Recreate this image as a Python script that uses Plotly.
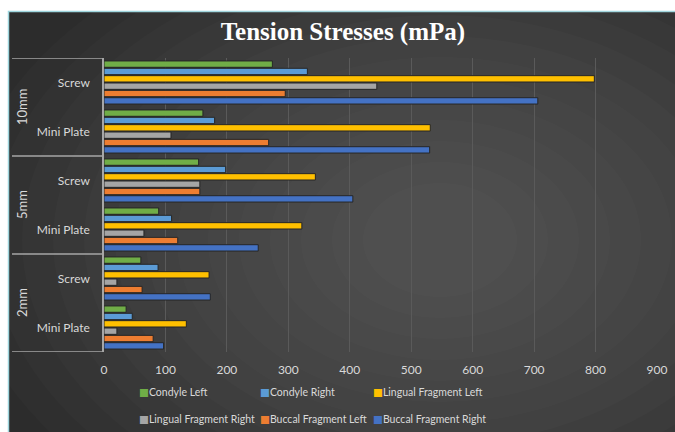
import plotly.graph_objects as go

# ---- data ----
categories = ["Screw", "Mini Plate", "Screw", "Mini Plate", "Screw", "Mini Plate"]
groups = ["10mm", "5mm", "2mm"]
series_names = ["Condyle Left", "Condyle Right", "Lingual Fragment Left",
                "Lingual Fragment Right", "Buccal Fragment Left", "Buccal Fragment Right"]
condyle_left = [274, 161, 154, 89, 60, 36]
condyle_right = [331, 180, 198, 110, 88, 46]
lingual_left = [798, 531, 344, 322, 171, 134]
lingual_right = [444, 109, 156, 65, 21, 21]
buccal_left = [295, 268, 156, 120, 62, 80]
buccal_right = [706, 530, 405, 251, 173, 97]
x_ticks = [0, 100, 200, 300, 400, 500, 600, 700, 800, 900]

series_values = [condyle_left, condyle_right, lingual_left,
                 lingual_right, buccal_left, buccal_right]
colors = ["#70AD47", "#5B9BD5", "#FFC000", "#A5A5A5", "#ED7D31", "#4472C4"]

W, H = 675, 432
L, R, T, B = 104, 18, 58, 80
PW, PH = W - L - R, H - T - B


def px_x(px):
    return (px - L) / PW


def px_y(py):
    return (H - B - py) / PH


legend_ids = ["legend", "legend2", "legend3", "legend4", "legend5", "legend6"]
# legend entry start positions (px) in a 3-column, 2-row grid
legend_item_x = [139, 260, 373, 139, 260, 373]
legend_row_y = [392, 392, 392, 419, 419, 419]

positions = list(range(len(categories)))
fig = go.Figure()
for i, (name, vals, col) in enumerate(zip(series_names, series_values, colors)):
    fig.add_trace(go.Bar(
        y=positions, x=vals, name=name, orientation="h",
        marker=dict(color=col, line=dict(color="#262626", width=1)),
        showlegend=False,
    ))
# compact legend entries (small coloured square right before the text)
for i, (name, col) in enumerate(zip(series_names, colors)):
    fig.add_trace(go.Scatter(
        x=[None], y=[None], mode="markers",
        marker=dict(color="rgba(0,0,0,0)", size=1, line=dict(width=0)),
        name=f"<span style='color:{col}'>■</span>{name}",
        legend=legend_ids[i], showlegend=True, hoverinfo="skip",
    ))

shapes = []
# background panel
shapes.append(dict(type="rect", xref="paper", yref="paper",
                   x0=px_x(8.5), x1=px_x(677), y0=px_y(434), y1=px_y(11.5),
                   fillcolor="#2c2c2c", line=dict(color="#9ed6de", width=1.5),
                   layer="below"))
# soft radial lightening
cx, cy = 440, 240
n = 14
for k in range(n):
    rx = 480 - k * 31
    ry = 330 - k * 21
    shapes.append(dict(type="circle", xref="paper", yref="paper",
                       x0=px_x(cx - rx), x1=px_x(cx + rx),
                       y0=px_y(cy + ry), y1=px_y(cy - ry),
                       fillcolor="rgba(255,255,255,0.016)", line=dict(width=0),
                       layer="below"))
# group separator lines in the category label area
for yv in [-0.5, 1.5, 3.5, 5.5]:
    shapes.append(dict(type="line", xref="paper", yref="y",
                       x0=px_x(12), x1=0, y0=yv, y1=yv,
                       line=dict(color="#a6a6a6", width=1.5)))

annotations = []
for gi, g in enumerate(groups):
    annotations.append(dict(text=g, xref="paper", yref="y",
                             x=px_x(22), y=gi * 2 + 0.5, showarrow=False,
                             textangle=-90, xanchor="center", yanchor="middle",
                             font=dict(family="Lato, Open Sans, sans-serif",
                                       size=13, color="#d9d9d9")))

legend_font = dict(family="Lato, DejaVu Sans, sans-serif", size=10.5, color="#d9d9d9")
legend_layouts = {}
for lid, ix, ty in zip(legend_ids, legend_item_x, legend_row_y):
    legend_layouts[lid] = dict(orientation="v", x=px_x(ix - 40), xanchor="left",
                               y=px_y(ty), yanchor="middle",
                               bgcolor="rgba(0,0,0,0)", font=legend_font)

fig.update_layout(
    width=W, height=H,
    margin=dict(l=L, r=R, t=T, b=B, pad=0, autoexpand=False),
    paper_bgcolor="white",
    plot_bgcolor="rgba(0,0,0,0)",
    barmode="group", bargap=0.1, bargroupgap=0.14,
    title=dict(text="<b>Tension Stresses (mPa)</b>", x=0.508, xanchor="center",
               y=1 - 31 / H, yanchor="middle", yref="container",
               font=dict(family="Liberation Serif, serif", size=25, color="white")),
    xaxis=dict(range=[0, 900], tickvals=x_ticks, showgrid=True,
               gridcolor="#5a5a5a", gridwidth=1, zeroline=False, showline=False,
               ticks="", ticklabelstandoff=9,
               tickfont=dict(family="Lato, Open Sans, sans-serif", size=12, color="#d9d9d9")),
    yaxis=dict(range=[5.5, -0.5], tickvals=positions, ticktext=categories,
               showgrid=False, zeroline=False, showline=True,
               linecolor="#a6a6a6", linewidth=1.5, ticks="",
               ticklabelstandoff=10,
               tickfont=dict(family="Lato, Open Sans, sans-serif", size=12, color="#d9d9d9")),
    shapes=shapes,
    annotations=annotations,
    showlegend=True,
    **legend_layouts,
)

fig.write_html("out.html", config={"displayModeBar": False},
               post_script="document.body.style.margin='0';")
